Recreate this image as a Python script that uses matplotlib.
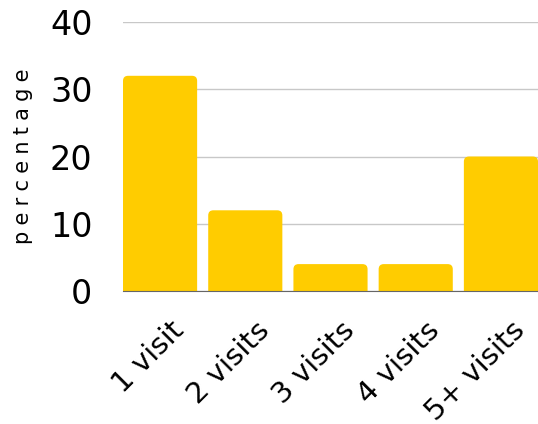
import numpy as np
import matplotlib.pyplot as plt
import matplotlib.transforms as mtransforms
from matplotlib.patches import FancyBboxPatch

categories = ["1 visit", "2 visits", "3 visits", "4 visits", "5+ visits"]
values = [32, 12, 4, 4, 20]
yticks = [0, 10, 20, 30, 40]

plt.rcParams['font.family'] = ['DejaVu Sans']

fig = plt.figure(figsize=(5.38, 4.24), dpi=100)
ax = fig.add_axes([123 / 538, 1 - 291 / 424, 415 / 538, 269 / 424])

x = np.arange(len(categories))
bars = ax.bar(x, values, width=0.87, color="#FFCC00", zorder=2)

# swap the plain bars for ones with rounded corners
aspect = (85 / 6.725)
for b in bars:
    bx, by = b.get_x(), b.get_y()
    w, h = b.get_width(), b.get_height()
    b.set_visible(False)
    p = FancyBboxPatch((bx, by - 2), w, h + 2,
                       boxstyle="round,pad=0,rounding_size=0.06",
                       mutation_aspect=aspect,
                       facecolor="#FFCC00", edgecolor="none", zorder=2)
    ax.add_patch(p)

ax.set_xlim(-0.435, len(categories) - 1 + 0.435)
ax.set_ylim(0, 40)
ax.set_yticks(yticks)
ax.set_xticks(x)
ax.set_xticklabels(categories, rotation=45, ha="right", va="top",
                   rotation_mode="anchor", fontsize=21)
ax.tick_params(axis="y", length=0, pad=22, labelsize=24)
ax.tick_params(axis="x", length=0, pad=18)

shift = mtransforms.ScaledTranslation(10 / 100, 0, fig.dpi_scale_trans)
for lbl in ax.get_xticklabels():
    lbl.set_transform(lbl.get_transform() + shift)

for s in ["top", "right", "left"]:
    ax.spines[s].set_visible(False)
ax.spines["bottom"].set_color("#666666")
ax.spines["bottom"].set_zorder(3)

ax.yaxis.grid(True, color="#c8c8c8", linewidth=1, zorder=0)
ax.set_axisbelow(True)

ax.set_ylabel("\u2009\u200a".join("percentage"), fontsize=15, labelpad=12)

fig.savefig("out.png", dpi=100)
